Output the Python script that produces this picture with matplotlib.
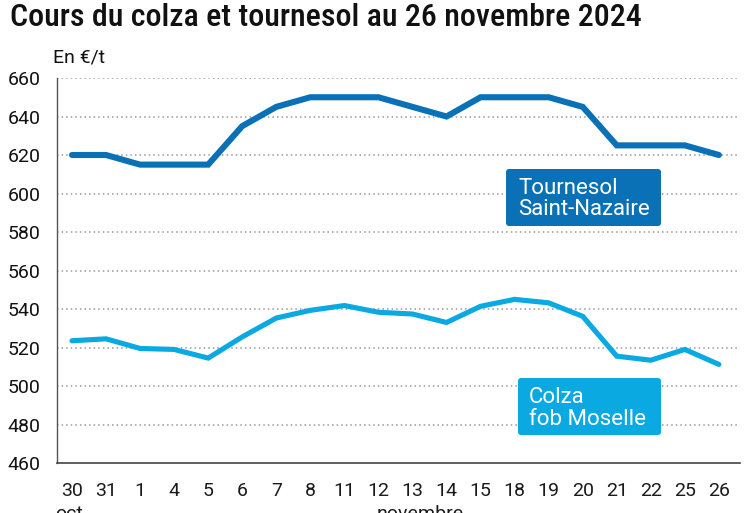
import matplotlib
matplotlib.use("Agg")
import matplotlib.pyplot as plt
from matplotlib import font_manager
from matplotlib.patches import FancyBboxPatch
from matplotlib.transforms import IdentityTransform

days = ["30", "31", "1", "4", "5", "6", "7", "8", "11", "12", "13", "14", "15", "18", "19", "20", "21", "22", "25", "26"]
months = ["oct.", "novembre"]
tournesol = [620, 620, 615, 615, 615, 635, 645, 650, 650, 650, 645, 640, 650, 650, 650, 645, 625, 625, 625, 620]
colza = [523.5, 524.5, 519.5, 519, 514.5, 525.5, 535.3, 539.3, 541.8, 538.3, 537.4, 533, 541.4, 545, 543.2, 536.2, 515.5, 513.4, 519, 511.2]
yticks = [460, 480, 500, 520, 540, 560, 580, 600, 620, 640, 660]
series_names = ["Tournesol\nSaint-Nazaire", "Colza\nfob Moselle"]

names = {f.name for f in font_manager.fontManager.ttflist}
cond = "Roboto Condensed" if "Roboto Condensed" in names else (
    "Liberation Sans Narrow" if "Liberation Sans Narrow" in names else "Roboto")

C_T = "#0b71b6"
C_C = "#0aa9e1"
W, H = 747, 513
fig = plt.figure(figsize=(W / 100, H / 100), dpi=100)
ax = fig.add_axes([57 / W, (H - 463) / H, (740 - 57) / W, (463 - 78) / H])

x = list(range(len(days)))
ax.plot(x, tournesol, color=C_T, lw=4.4, solid_joinstyle="miter", solid_capstyle="round")
ax.plot(x, colza, color=C_C, lw=3.7, solid_joinstyle="miter", solid_capstyle="round")

ax.set_xlim(-0.44, 19.62)
ax.set_ylim(460, 660)
ax.set_yticks(yticks)
ax.set_yticklabels([str(v) for v in yticks], family=["Roboto"], fontsize=14)
ax.set_xticks(x)
ax.set_xticklabels(days, family=["Roboto"], fontsize=14)
ax.tick_params(length=0)
ax.tick_params(axis="y", pad=12, colors="#111111")
ax.tick_params(axis="x", pad=14, colors="#1a1a1a")
for v in yticks[1:]:
    ax.axhline(v, color="#9a9a9a", lw=1.1, ls=(0, (1, 2)), zorder=0)
for s in ["top", "right"]:
    ax.spines[s].set_visible(False)
ax.spines["left"].set_color("#555555")
ax.spines["left"].set_linewidth(1.0)
ax.spines["bottom"].set_color("#444444")
ax.spines["bottom"].set_linewidth(1.2)

fig.text(10 / W, 1 - 17 / H, "Cours du colza et tournesol au 26 novembre 2024",
         family=[cond, "Roboto"], fontsize=23, fontweight="medium", va="center", ha="left", color="#111111")
fig.text(53 / W, 1 - 57 / H, "En €/t", family=["Roboto"], fontsize=14, va="center", ha="left", color="#111111")

fig.text(72 / W, 1 - 519 / H, months[0], family=["Roboto"], fontsize=14,
         ha="center", va="baseline", color="#1a1a1a")
fig.text(420 / W, 1 - 519 / H, months[1], family=["Roboto"], fontsize=14,
         ha="center", va="baseline", color="#1a1a1a")

# label boxes (pixel coordinates, y from top)
boxes = [(506, 169, 661, 226, C_T, 518, [194, 215]),
         (518, 378, 661, 435, C_C, 529, [403, 425])]
for (x0, y0, x1, y1, col, tx, bls), name in zip(boxes, series_names):
    p = FancyBboxPatch((x0, H - y1), x1 - x0, y1 - y0, boxstyle="round,pad=0,rounding_size=3",
                       transform=IdentityTransform(), fc=col, ec="none", zorder=5)
    fig.patches.append(p)
    for line, bl in zip(name.split("\n"), bls):
        fig.text(tx / W, 1 - bl / H, line, family=["Roboto"], fontsize=16, color="white",
                 ha="left", va="baseline", zorder=6)

fig.savefig("out.png", dpi=100)
